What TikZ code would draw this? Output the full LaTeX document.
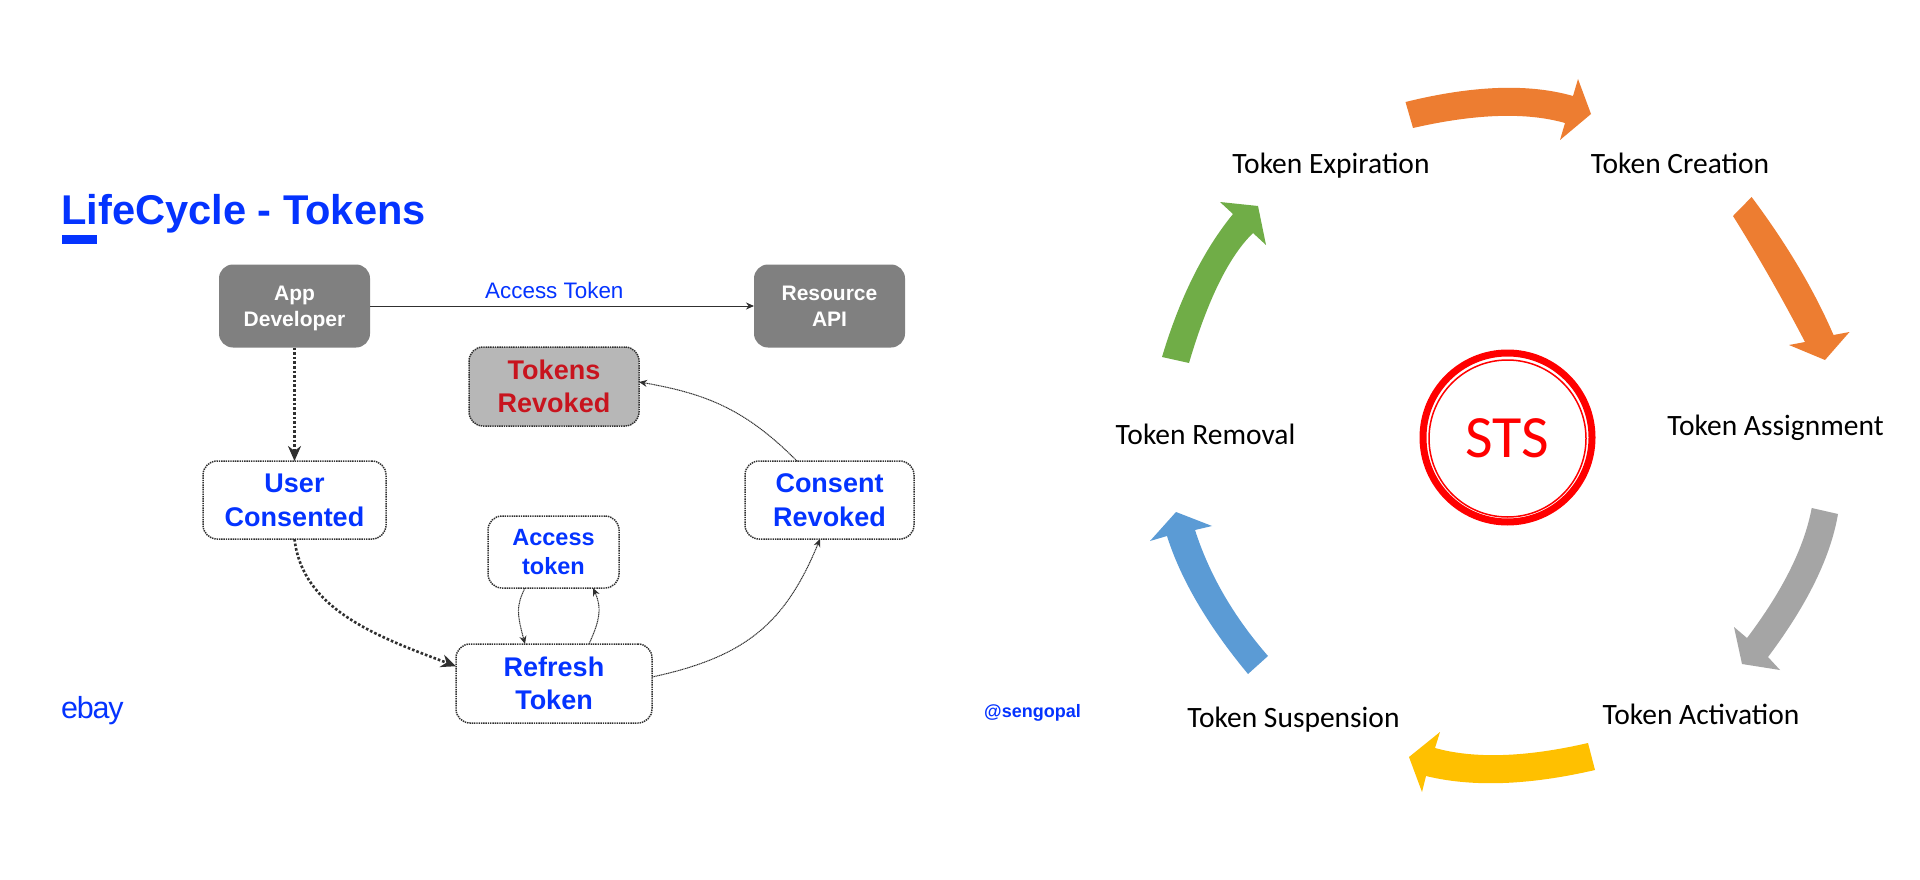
\documentclass[tikz,border=0pt]{standalone}
\usepackage{fontspec}
\setmainfont{Liberation Sans}
\newfontfamily\calib{Carlito}
\usetikzlibrary{arrows.meta,calc}
\definecolor{ebblue}{HTML}{0433FF}
\definecolor{boxgray}{HTML}{808080}
\definecolor{revgray}{HTML}{B7B7B7}
\definecolor{revred}{HTML}{C8141E}
\definecolor{edgedark}{HTML}{303030}
\definecolor{aorange}{HTML}{ED7D31}
\definecolor{agray}{HTML}{A5A5A5}
\definecolor{ayellow}{HTML}{FFC000}
\definecolor{ablue}{HTML}{5B9BD5}
\definecolor{agreen}{HTML}{70AD47}
\newcommand\lnh{\rule[-.22\baselineskip]{0pt}{\baselineskip}}
\tikzset{
  anybox/.style={rectangle,rounded corners=14pt,inner sep=0pt,outer sep=0pt,align=center},
  solidbox/.style={anybox,fill=boxgray,text=white,font=\fontsize{21}{26}\selectfont\bfseries},
  dotbox/.style={anybox,draw=edgedark,fill=white,line width=1.5pt,dash pattern=on 1.4pt off .9pt,text=ebblue,font=\fontsize{27}{33.5}\selectfont\bfseries},
  thinlink/.style={draw=edgedark,line width=1pt,dash pattern=on 1.2pt off .6pt,-{Stealth[length=8pt,width=7pt]}},
  thicklink/.style={draw=edgedark,line width=2.6pt,dash pattern=on 2.6pt off 2pt,-{Stealth[length=15pt,width=13pt]}},
  tokenlabel/.style={anchor=base,inner sep=0pt,font=\calib\fontsize{29.5}{34}\selectfont,text=black},
}
\begin{document}
\begin{tikzpicture}[x=1pt,y=-1pt]
\useasboundingbox (0,0) rectangle (1920,880);
\fill[white] (0,0) rectangle (1920,880);

% left panel
\node[anchor=base west,inner sep=0pt,text=ebblue,font=\fontsize{41.6}{44}\selectfont\bfseries] (title) at (61,224) {LifeCycle - Tokens};
\fill[ebblue] (62,235) rectangle (97,244);
\node[anchor=base west,inner sep=0pt,text=ebblue,font=\fontsize{30.5}{32}\selectfont\addfontfeature{LetterSpace=-4}] (ebay) at (61,718) {ebay};
\node[anchor=base west,inner sep=0pt,text=ebblue,font=\fontsize{18}{20}\selectfont\bfseries] (handle) at (984,717) {@sengopal};

\node[solidbox,minimum width=151pt,minimum height=83pt] (app) at (294.5,306) {App\lnh\\Developer\lnh};
\node[solidbox,minimum width=151pt,minimum height=83pt] (res) at (829.5,306) {Resource\lnh\\API\lnh};
\node[dotbox,fill=revgray,text=revred,minimum width=170pt,minimum height=79pt] (revd) at (554,386.5) {Tokens\lnh\\Revoked\lnh};
\node[dotbox,minimum width=183pt,minimum height=78pt] (user) at (294.5,500) {User\lnh\\Consented\lnh};
\node[dotbox,minimum width=169pt,minimum height=78pt] (cons) at (829.5,500) {Consent\lnh\\Revoked\lnh};
\node[dotbox,minimum width=131pt,minimum height=72pt,font=\fontsize{23.5}{29}\selectfont\bfseries] (acc) at (553.5,552) {Access\lnh\\token\lnh};
\node[dotbox,minimum width=196pt,minimum height=79pt] (ref) at (554,683.5) {Refresh\lnh\\Token\lnh};

\draw[draw=edgedark,line width=1pt,-{Stealth[length=8pt,width=7pt]}] (app.east) -- (res.west)
  node[pos=.48,anchor=base,yshift=8pt,inner sep=0pt,text=ebblue,font=\fontsize{22.4}{24}\selectfont] (tok) {Access Token};
\draw[thicklink] (app.south) -- (user.north);
\draw[thicklink] (user.south) .. controls +(8,70) and +(-80,-30) .. (ref.170);
\path (acc.south west) ++(37,0) coordinate (la);
\path (ref.north west) ++(69,0) coordinate (lb);
\draw[thinlink] (la) .. controls +(-9,18) and +(-8,-30) .. (lb);
\path (ref.north west) ++(133,0) coordinate (ua);
\path (acc.south west) ++(105,0) coordinate (ub);
\draw[thinlink] (ua) .. controls +(9,-20) and +(10,22) .. (ub);
\path (ref.east) ++(0,-6.5) coordinate (ra);
\path (cons.south west) ++(75,0) coordinate (rb);
\draw[thinlink] (ra) .. controls +(93,-20) and +(-35,85) .. (rb);
\path (cons.north west) ++(52,0) coordinate (ca);
\path (revd.east) ++(0,-4.5) coordinate (cb);
\draw[thinlink] (ca) .. controls +(-50,-50) and +(70,12) .. (cb);

% right panel
\node[tokenlabel] (lexp) at (1331,174) {Token Expiration};
\node[tokenlabel] (lcre) at (1680,174) {Token Creation};
\node[tokenlabel] (lass) at (1775.5,435) {Token Assignment};
\node[tokenlabel] (lrem) at (1205.5,444) {Token Removal};
\node[tokenlabel] (lsus) at (1293.5,727) {Token Suspension};
\node[tokenlabel] (lact) at (1701,724) {Token Activation};

\node[circle,draw=red,line width=7pt,inner sep=0pt,outer sep=0pt,minimum size=169pt] (stsring) at (1507.5,437.5) {};
\node[circle,draw=red,line width=1.5pt,inner sep=0pt,outer sep=0pt,minimum size=157pt,text=red,font=\calib\fontsize{60}{62}\selectfont] (sts) at (1507.5,438.5) {STS};

% cycle arrows
\fill[aorange] (1405.5,102) .. controls ($1.3333*(1498,88)-.3333*(1573,96)$) and ($1.3333*(1498,88)-.3333*(1405.5,102)$) .. (1573,96) -- (1578,79) -- (1591,114) -- (1560,140) -- (1565,123) .. controls ($1.3333*(1498,116)-.3333*(1413,128)$) and ($1.3333*(1498,116)-.3333*(1565,123)$) .. (1413,128) -- cycle;
\fill[aorange] (1751.6,197) .. controls ($1.3333*(1798.6,267)-.3333*(1833.5,335)$) and ($1.3333*(1798.6,267)-.3333*(1751.6,197)$) .. (1833.5,335) -- (1849.5,332) -- (1825,360) -- (1789,345) -- (1805,342) .. controls ($1.3333*(1769.5,277)-.3333*(1733,216)$) and ($1.3333*(1769.5,277)-.3333*(1805,342)$) .. (1733,216) -- cycle;
\fill[agray] (1838,514) .. controls ($1.3333*(1815,582)-.3333*(1768,657)$) and ($1.3333*(1815,582)-.3333*(1838,514)$) .. (1768,657) -- (1780,670) -- (1742,664) -- (1734,627) -- (1747,638) .. controls ($1.3333*(1790,570)-.3333*(1811.7,508)$) and ($1.3333*(1790,570)-.3333*(1747,638)$) .. (1811.7,508) -- cycle;
\fill[ayellow] (1595,770) .. controls ($1.3333*(1503,783)-.3333*(1426,776)$) and ($1.3333*(1503,783)-.3333*(1595,770)$) .. (1426,776) -- (1422,792) -- (1409,757) -- (1440,732) -- (1435,748) .. controls ($1.3333*(1503,755)-.3333*(1588,743)$) and ($1.3333*(1503,755)-.3333*(1435,748)$) .. (1588,743) -- cycle;
\fill[ablue] (1248,674) .. controls ($1.3333*(1197.5,603)-.3333*(1167,536)$) and ($1.3333*(1197.5,603)-.3333*(1248,674)$) .. (1167,536) -- (1150,541) -- (1176,512) -- (1212,526) -- (1195,530) .. controls ($1.3333*(1224,595)-.3333*(1268,656)$) and ($1.3333*(1224,595)-.3333*(1195,530)$) .. (1268,656) -- cycle;
\fill[agreen] (1162,357) .. controls ($1.3333*(1193,277)-.3333*(1233,214)$) and ($1.3333*(1193,277)-.3333*(1162,357)$) .. (1233,214) -- (1220,202) -- (1258,206) -- (1266,245) -- (1253,233) .. controls ($1.3333*(1219,283)-.3333*(1189,363)$) and ($1.3333*(1219,283)-.3333*(1253,233)$) .. (1189,363) -- cycle;
\end{tikzpicture}
\end{document}
